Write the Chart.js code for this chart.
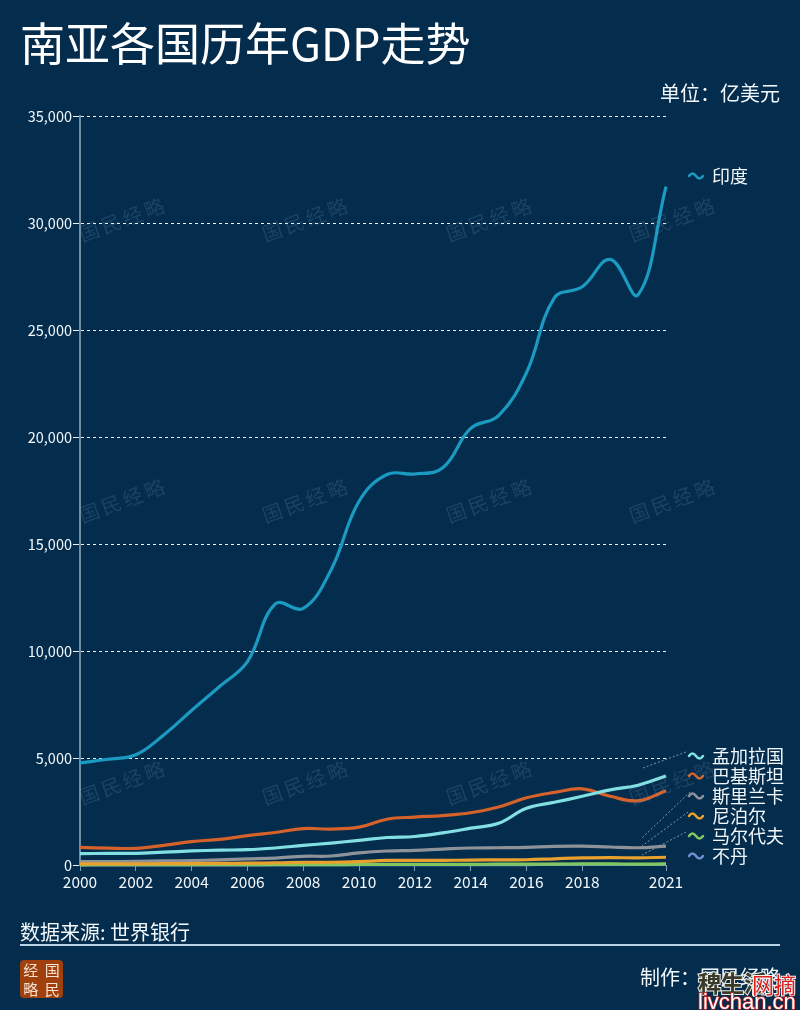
<!DOCTYPE html>
<html>
<head>
<meta charset="utf-8">
<script src="https://cdn.jsdelivr.net/npm/chart.js@4/dist/chart.umd.min.js"></script>
<style>
  html, body { margin: 0; padding: 0; background: #042c4d; }
  body { width: 800px; height: 1010px; position: relative; overflow: hidden; font-family: "Noto Sans CJK SC", "Noto Sans", sans-serif; color: #f2f8fb; }
  canvas { position: absolute; left: 0; top: 0; }
  .txt { position: absolute; white-space: nowrap; line-height: 1; }
  #title { left: 20px; top: 19px; font-size: 45px; color: #fff; }
  #unit { right: 20px; top: 83px; font-size: 20px; }
  #source { left: 20px; top: 922px; font-size: 20px; }
  #rule { position: absolute; left: 20px; top: 944px; width: 760px; height: 2px; background: #b9d3e4; }
  #credit { right: 20px; top: 967px; font-size: 20px; }
  #logo { position: absolute; left: 20px; top: 960px; width: 43px; height: 38px; background: #a0410d; border-radius: 4px; color: #f4e3d2; font-size: 15px; display: grid; grid-template-columns: 1fr 1fr; grid-template-rows: 1fr 1fr; place-items: center; line-height: 1; }
  #site1 { left: 698px; top: 971px; font-size: 23px; color: #3a3a2a; font-weight: 700; -webkit-text-stroke: 2px #e8e8e0; paint-order: stroke fill; }
  #site2 { left: 752px; top: 972px; font-size: 22px; color: #e01f1f; -webkit-text-stroke: 2px #f4f4f4; paint-order: stroke fill; }
  #site3 { left: 698px; top: 991px; font-size: 22px; color: #fff; font-family: "Liberation Sans", sans-serif; -webkit-text-stroke: 1.5px #c22; paint-order: stroke fill; }
</style>
</head>
<body>
<canvas id="chart" width="800" height="1010"></canvas>
<div class="txt" id="title">南亚各国历年GDP走势</div>
<div class="txt" id="unit">单位：亿美元</div>
<div class="txt" id="source">数据来源: 世界银行</div>
<div id="rule"></div>
<div id="logo"><span>经</span><span>国</span><span>略</span><span>民</span></div>
<div class="txt" id="credit">制作：国民经略</div>
<div class="txt" id="site1">稗生活</div>
<div class="txt" id="site2">网摘</div>
<div class="txt" id="site3">livchan.cn</div>
<script>
const years = ['2000','2001','2002','2003','2004','2005','2006','2007','2008','2009','2010','2011','2012','2013','2014','2015','2016','2017','2018','2019','2020','2021'];
const shownYears = ['2000','2002','2004','2006','2008','2010','2012','2014','2016','2018','2021'];
const yTicks = [0, 5000, 10000, 15000, 20000, 25000, 30000, 35000];

const india = [4770, 4940, 5150, 6080, 7220, 8340, 9500, 12200, 11990, 13800, 17000, 18250, 18270, 18560, 20400, 21000, 23000, 26500, 27020, 28300, 26650, 31700];
const bangladesh = [534, 540, 545, 600, 656, 695, 715, 795, 915, 1025, 1150, 1284, 1333, 1500, 1720, 1950, 2650, 2930, 3210, 3510, 3730, 4160];
const pakistan = [820, 790, 780, 920, 1090, 1200, 1370, 1520, 1700, 1680, 1770, 2140, 2240, 2310, 2440, 2710, 3140, 3390, 3560, 3210, 3000, 3470];
const sriLanka = [164, 157, 169, 189, 206, 242, 283, 323, 407, 420, 568, 654, 687, 745, 794, 806, 825, 870, 878, 840, 807, 885];
const nepal = [55, 56, 56, 60, 68, 76, 84, 100, 127, 128, 160, 214, 219, 220, 228, 243, 246, 290, 331, 343, 336, 363];
const maldives = [10, 11, 11, 12, 13, 12, 15, 17, 20, 20, 23, 25, 26, 29, 32, 38, 41, 45, 50, 56, 37, 53];
const bhutan = [4, 5, 5, 6, 7, 8, 9, 12, 13, 13, 17, 18, 18, 18, 20, 20, 22, 25, 25, 25, 24, 25];

const seriesNames = ['印度', '孟加拉国', '巴基斯坦', '斯里兰卡', '尼泊尔', '马尔代夫', '不丹'];
const seriesValues = [india, bangladesh, pakistan, sriLanka, nepal, maldives, bhutan];
const seriesColors = ['#1b9ac2', '#82e0e2', '#d4622a', '#8e9299', '#e8a02e', '#7fc75e', '#6f8fcf'];
// lower number is painted on top
const seriesOrder = [7, 5, 6, 2, 1, 3, 4];

const FONT = '"Noto Sans CJK SC", "Noto Sans", sans-serif';

// legend rows, index matches seriesNames
const legendRows = [176, 756, 776, 796, 816, 836, 856];
// leader lines from a legend wave to the end of its line
const leaders = [
  [686, 752, 643, 768],
  [690, 792, 642, 838],
  [688, 812, 642, 846],
  [686, 832, 642, 855],
];

const legendPlugin = {
  id: 'sideLegend',
  afterDatasetsDraw(chart) {
    const ctx = chart.ctx;
    ctx.save();
    ctx.setLineDash([2, 2]);
    ctx.lineWidth = 1;
    ctx.strokeStyle = '#7f97a8';
    leaders.forEach(([x1, y1, x2, y2]) => {
      ctx.beginPath();
      ctx.moveTo(x1, y1);
      ctx.lineTo(x2, y2);
      ctx.stroke();
    });
    ctx.setLineDash([]);
    ctx.font = '18px ' + FONT;
    ctx.textBaseline = 'middle';
    seriesNames.forEach((name, i) => {
      const y = legendRows[i];
      ctx.strokeStyle = seriesColors[i];
      ctx.lineWidth = 2.5;
      ctx.lineCap = 'round';
      ctx.beginPath();
      ctx.moveTo(689, y);
      ctx.quadraticCurveTo(692.5, y - 5, 696, y);
      ctx.quadraticCurveTo(699.5, y + 5, 703, y);
      ctx.stroke();
      ctx.fillStyle = '#f2f8fb';
      ctx.fillText(name, 712, y);
    });
    ctx.restore();
  },
};

const watermarkPlugin = {
  id: 'watermark',
  afterDraw(chart) {
    const ctx = chart.ctx;
    ctx.save();
    ctx.font = '20px ' + FONT;
    ctx.fillStyle = 'rgba(150, 180, 200, 0.17)';
    ctx.textBaseline = 'middle';
    [235, 516, 798].forEach((y) => {
      [80, 263, 447, 630].forEach((x) => {
        ctx.save();
        ctx.translate(x, y);
        ctx.rotate(-20 * Math.PI / 180);
        '国民经略'.split('').forEach((ch, i) => ctx.fillText(ch, i * 23, 0));
        ctx.restore();
      });
    });
    ctx.restore();
  },
};

new Chart(document.getElementById('chart'), {
  type: 'line',
  data: {
    labels: years,
    datasets: seriesNames.map((name, i) => ({
      label: name,
      data: seriesValues[i],
      borderColor: seriesColors[i],
      borderWidth: 3.2,
      pointRadius: 0,
      tension: 0.4,
      fill: false,
      clip: false,
      order: seriesOrder[i],
    })),
  },
  options: {
    responsive: false,
    animation: false,
    devicePixelRatio: 1,
    layout: { autoPadding: false, padding: { left: 0, top: 116, right: 134, bottom: 110 } },
    plugins: { legend: { display: false }, tooltip: { enabled: false }, title: { display: false } },
    scales: {
      x: {
        type: 'category',
        offset: false,
        afterFit: (s) => { s.height = 35; },
        border: { display: false },
        grid: {
          drawOnChartArea: false,
          tickLength: 6,
          tickColor: (c) => shownYears.includes(years[c.index]) ? '#7f9cb0' : 'transparent',
        },
        ticks: {
          autoSkip: false,
          maxRotation: 0,
          padding: 2,
          color: '#f2f8fb',
          font: { family: FONT, size: 15.5 },
          callback: (v, i) => shownYears.includes(years[i]) ? years[i] : '',
        },
      },
      y: {
        min: 0,
        max: 35000,
        afterFit: (s) => { s.width = 80; },
        afterBuildTicks: (s) => { s.ticks = yTicks.map((value) => ({ value })); },
        border: { color: '#6f8ea3', width: 2, dash: [3, 3] },
        grid: {
          color: '#e8f2f8',
          lineWidth: 1,
          tickLength: 7,
          tickColor: '#e8f2f8',
          tickBorderDash: [],
        },
        ticks: {
          padding: 1,
          color: '#f2f8fb',
          font: { family: FONT, size: 14.5 },
          callback: (v) => v.toLocaleString('en-US'),
        },
      },
    },
  },
  plugins: [legendPlugin, watermarkPlugin],
});
</script>
</body>
</html>
